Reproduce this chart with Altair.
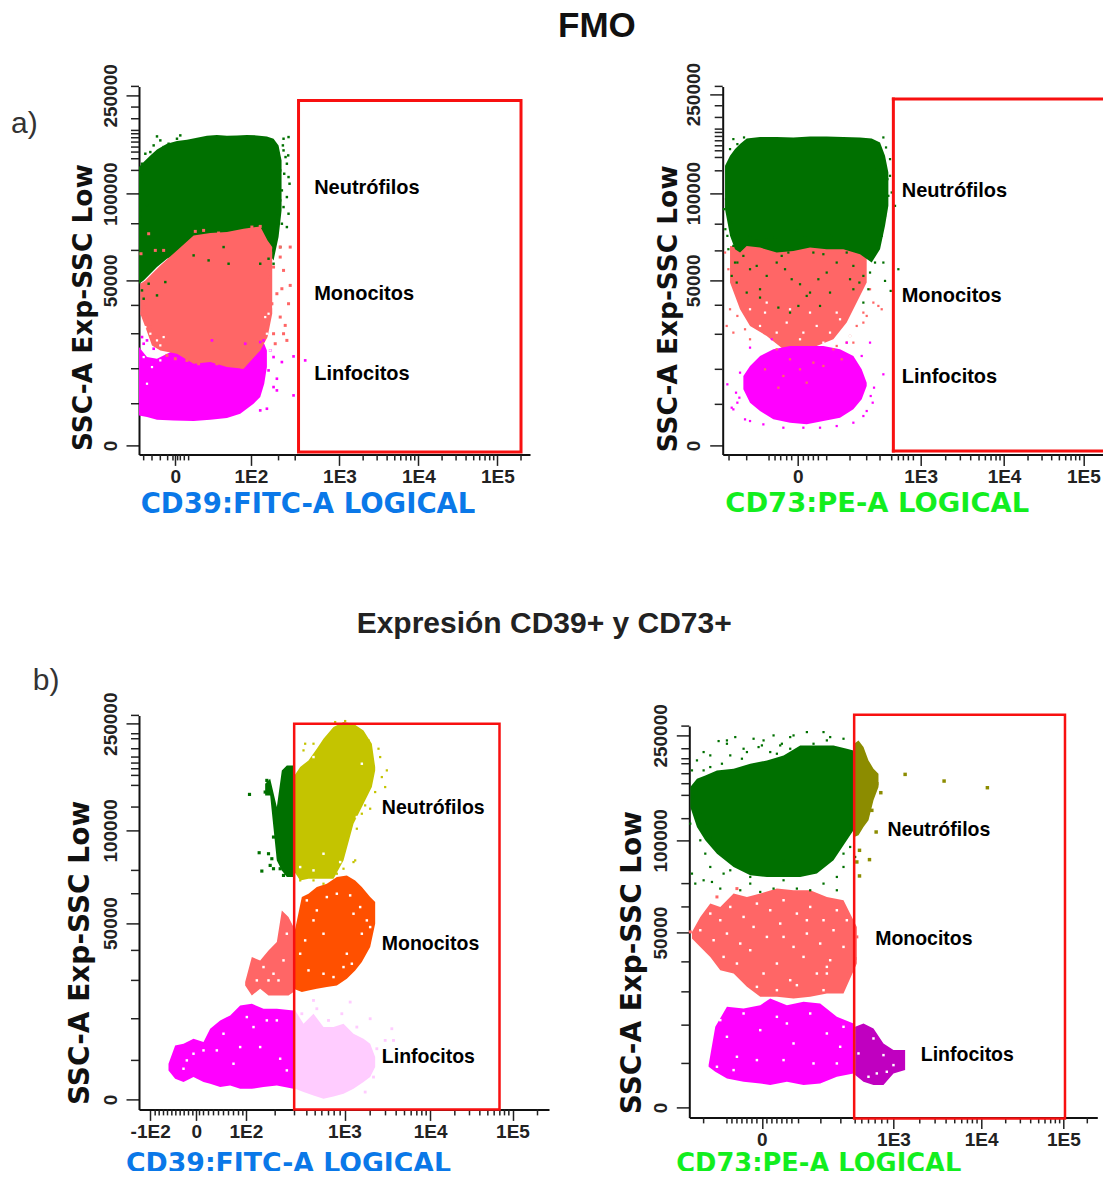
import altair as alt
import pandas as pd

# All positions below are display channels (one channel = 1/3 px).
P1_GREEN = dict(x=[236,250,270,290,320,350,380,410,440,470,500,530,560,590,620,640,655,664],
                top=[350,335,315,297,280,272,268,262,256,254,256,255,254,255,258,265,285,330],
                bot=[700,690,670,650,625,610,600,590,590,590,590,590,590,590,600,630,560,480])
P1_MAG = dict(x=[236,260,290,340,400,450,500,540,580,600,612,620],
              top=[890,920,925,900,880,880,880,880,880,880,880,900],
              bot=[1095,1100,1108,1110,1112,1108,1103,1090,1060,1040,1000,950])
P1_SALMON = dict(x=[240,255,275,300,350,400,450,500,550,600,622,636],
                 top=[700,690,670,645,600,555,548,545,535,528,570,590],
                 bot=[790,830,885,900,910,940,935,950,955,900,860,790])
P1_GREEN_SX = [255,270,290,325,360,245,250,260,240,670,685,670,680,685,672,688,665,680,660,670,650,685,665,680,650,640,660,245,265,290,250,400,445,505,490,600,315,300,350,625,640,668,676,660,655,684,245,240,280,310]
P1_GREEN_SY = [310,305,258,280,255,370,395,465,500,265,260,300,340,380,370,400,420,440,450,470,490,490,520,530,525,600,590,720,700,735,745,615,630,640,590,640,695,270,265,625,640,285,320,360,510,315,340,480,285,290]
P1_SALMON_SX = [265,242,285,310,690,660,640,660,670,690,665,650,685,635,660,625,675,640,670,645,680,250,260,245,270,290,405,430,475,575,600,630]
P1_SALMON_SY = [550,610,600,600,590,590,650,620,660,705,715,730,760,760,800,790,825,850,850,880,870,770,800,790,830,860,543,540,548,530,528,680]
P1_MAG_SX = [700,735,700,665,640,650,640,650,620,600,625,245,250,555,600,455,610,630,260,280]
P1_MAG_SY = [918,930,1035,935,920,985,1010,1020,1075,1080,960,860,880,880,875,870,870,900,870,895]
P1_LSAL_SX = [415,520,380,545,470,345,320]
P1_LSAL_SY = [940,945,930,950,940,925,915]
P1_WHITE_SX = [255,270,290,310,262,285,300,250,640,625,615,650,260,275,300,620,630]
P1_WHITE_SY = [830,850,870,860,880,905,885,920,770,790,800,800,1000,950,930,850,900]

P2_GREEN = dict(x=[225,240,255,270,290,330,380,430,480,530,580,630,665,690,705,715],
                top=[350,320,300,285,268,264,264,265,262,262,264,265,268,280,320,370],
                bot=[480,560,600,610,590,595,610,605,595,600,600,615,640,600,530,470])
P2_SALMON = dict(x=[240,270,300,350,400,450,500,550,590,620,650],
                 top=[590,590,590,590,590,590,590,590,590,590,590],
                 bot=[700,780,830,860,900,900,890,870,820,760,700])
P2_MAG = dict(x=[280,300,330,370,420,470,520,570,610,635,650],
              top=[980,950,920,900,890,890,890,900,920,960,1000],
              bot=[1020,1060,1085,1110,1120,1125,1115,1105,1080,1050,1010])
P2_GREEN_SX = [250,262,282,700,708,690,680,720,712,725,735,745,722,705,235,228,245,222,232,250,262,245,300,320,350,375,395,415,440,465,490,520,545,570,590,610,640,660,675,700,655,628,600,560,530,505,480,450,425,405,380,350,330,300,280,260,290,320,420,510,640,610,540,470,445,385,330,695,715,705,685,720,240,226,255,235]
P2_GREEN_SY = [270,285,265,265,295,300,360,330,390,430,470,660,725,695,400,450,520,480,560,590,640,680,560,575,570,565,620,610,545,560,610,615,560,570,610,650,680,670,640,640,720,700,690,640,670,690,730,705,690,660,640,680,720,660,620,700,730,650,790,770,760,720,730,740,770,775,745,560,440,500,585,380,300,540,640,600]
P2_SALMON_SX = [225,235,250,240,262,285,300,660,685,695,640,670,620,650,230,250,600,640,610,590,560]
P2_SALMON_SY = [610,660,690,780,800,840,870,720,770,780,790,760,830,800,830,850,860,820,880,880,890]
P2_MAG_SX = [232,270,258,262,250,245,285,300,340,400,460,510,560,610,650,662,672,668,640,660,700,635,590,268,300,365]
P2_MAG_SY = [1005,970,1030,1060,1080,1075,1110,1115,1125,1135,1135,1135,1130,1120,1085,1040,1015,1060,1100,880,975,920,880,1045,895,870]
P2_LSAL_SX = [380,420,450,490,520,470,400,550,345,430,500,385,575]
P2_LSAL_SY = [900,930,960,940,950,1000,980,900,960,880,880,1015,930]
P2_WHITE_SX = [300,330,380,410,450,500,540,570,345,420,480,520,600,300,620,360,460,350,560,280]
P2_WHITE_SY = [780,830,850,820,870,830,850,810,790,780,790,880,860,860,790,875,850,760,790,820]

P3_GREEN = dict(x=[615,630,650,665,680,700], top=[310,295,380,270,255,255], bot=[345,345,540,570,590,590])
P3_GREEN_SX = [568,597,605,625,640,630,660,620,615,650,640,635,655,670]
P3_GREEN_SY = [342,517,572,520,565,555,565,300,335,400,470,535,530,585]
P3_OLIVE = dict(x=[700,720,745,770,790,820,850,880,910,935,945],
                top=[290,260,240,205,175,140,125,130,150,190,260],
                bot=[570,600,595,595,595,595,540,430,370,320,270])
P3_OLIVE_SX = [735,760,730,955,980,965,975,945,930,915,905,890,885,850,830,720,735,760,790,825,855,880,925,960]
P3_OLIVE_SY = [190,190,210,205,270,290,320,335,385,375,400,445,540,565,580,600,590,600,610,125,122,545,180,230]
P3_ORANGE = dict(x=[700,725,745,770,800,830,860,885,905,930,945],
                 top=[770,650,640,620,610,590,585,600,620,650,665],
                 bot=[925,935,930,925,920,915,895,870,845,800,730])
P3_SALMON = dict(x=[555,575,600,625,650,665,685,700],
                 top=[905,830,840,810,785,690,710,740],
                 bot=[915,945,925,945,945,945,945,935])
P3_MAG = dict(x=[325,345,370,400,430,450,480,510,540,575,610,650,700],
              top=[1150,1095,1090,1075,1085,1045,1020,1005,975,970,985,985,990],
              bot=[1170,1195,1205,1190,1205,1210,1220,1215,1225,1225,1220,1215,1225])
P3_PINK = dict(x=[705,730,760,790,820,850,880,910,930,945],
               top=[990,1030,1000,1040,1040,1030,1060,1075,1090,1130],
               bot=[1225,1235,1245,1255,1248,1240,1225,1205,1190,1160])
P3_PINK_SX = [760,770,870,845,930,995,975,1000,950,915,940,725,805,890]
P3_PINK_SY = [960,985,965,1000,1015,1045,1080,1080,1105,1235,1190,1000,1020,1040]
P3_WHITE_SX = [740,770,800,830,870,900,920,760,790,735,720,880,905,930,860,745,790,820,850,875,610,640,670,590,625,655,680,400,380,430,560,580,600,650,520,490,540,470,620,660,680,370,890,760,840,720,905,760,790]
P3_WHITE_SY = [660,690,650,640,645,680,720,720,760,780,820,700,760,740,820,870,880,890,860,850,860,880,840,900,900,900,760,1120,1140,1110,1010,1040,1100,1020,1150,1060,1100,1110,1020,1135,1170,1165,410,570,545,560,250,230,520]

P4_GREEN = dict(x=[240,260,285,320,370,420,470,520,570,620,670,710,730],
                top=[320,295,285,270,265,250,240,225,195,195,195,205,210],
                bot=[380,440,480,520,560,585,590,590,590,580,540,480,450])
P4_OLIVE = dict(x=[732,745,760,775,790,805], top=[190,180,200,240,265,280], bot=[470,465,440,420,360,320])
P4_OLIVE_SX = [885,1002,1132,798,778,748,740,748,812,800,785]
P4_OLIVE_SY = [282,302,322,455,538,510,545,587,337,310,390]
P4_GREEN_SX = [260,280,300,325,350,375,400,430,460,490,515,540,590,640,660,700,265,250,245,270,290,300,285,320,340,270,245,255,280,300,330,360,390,420,450,490,520,560,600,640,680,700,720,735,240,350,305,455,550,610,650,380,420,520,600,680,720,700,410,445,480,510,395,360,335,300,280,540,500]
P4_GREEN_SY = [240,215,225,182,180,170,205,175,180,165,190,170,155,155,170,175,330,350,270,400,430,470,520,500,580,480,580,610,600,560,625,570,630,610,635,625,600,625,630,610,630,560,500,530,430,190,605,195,165,190,180,545,590,540,570,590,440,520,215,200,215,195,235,225,250,260,270,205,220]
P4_SALMON = dict(x=[245,270,300,330,370,410,450,500,550,600,650,700,740],
                 top=[755,710,670,680,640,650,640,625,630,630,650,660,740],
                 bot=[775,800,830,870,880,920,950,950,955,950,940,940,850])
P4_MAG = dict(x=[295,315,350,400,450,480,530,580,630,680,730],
              top=[1155,1040,980,985,975,955,975,965,970,1010,1030],
              bot=[1160,1175,1195,1205,1210,1215,1205,1215,1210,1190,1180])
P4_PURPLE = dict(x=[735,760,790,820,850,885], top=[1040,1030,1045,1090,1110,1110], bot=[1185,1205,1215,1215,1180,1170])
P4_SAL_SX = [740,735,320,380,240,715]
P4_SAL_SY = [770,835,650,625,755,880]
P4_WHITE_SX = [300,330,360,400,440,480,520,560,600,640,680,270,310,350,390,430,470,510,550,590,630,670,710,340,380,420,460,500,540,580,620,660,700,500,440,640,650,650,560,520,590,330,350,400,450,500,550,600,650,700,440,380,370,520,610,690,290,320,530,680]
P4_WHITE_SY = [700,720,680,710,670,690,660,700,680,720,690,750,780,760,790,740,770,730,800,760,790,750,720,830,850,810,880,850,900,830,880,840,800,930,920,930,860,880,915,770,720,1020,1070,1000,1050,1010,1090,1000,1060,1040,1140,1130,1170,1140,1150,1100,1110,1160,1030,1150]
P4_PUR_WX = [790,820,850,775,745,800,830]
P4_PUR_WY = [1075,1125,1155,1190,1120,1180,1175]

CAT_NAMES = ["Neutrófilos", "Monocitos", "Linfocitos"]


def minor(a, b):
    # log-spaced minor ticks of a display decade, fractions as on the logical axis
    return [round(a + (b - a) * f) for f in (.301, .477, .602, .699, .778, .845, .903, .954)]


P1_X_MAJ = {345: "0", 572: "1E2", 838: "1E3", 1075: "1E4", 1312: "1E5"}
P1_X_MIN = [250, 275, 300, 322, 338, 352, 360, 372, 385, 655, 705, 1383] + minor(838, 1075) + minor(1075, 1312)
P2_X_MAJ = {443: "0", 812: "1E3", 1062: "1E4", 1300: "1E5"}
P2_X_MIN = [237, 290, 357, 375, 392, 410, 425, 460, 475, 490, 505, 530, 600, 650, 690, 725, 745, 760, 775, 790, 1375] + minor(812, 1062) + minor(1062, 1300)
P3_X_MAJ = {270: "-1E2", 408: "0", 557: "1E2", 853: "1E3", 1110: "1E4", 1357: "1E5"}
P3_X_MIN = [285, 297, 310, 322, 335, 347, 360, 372, 385, 398, 418, 430, 445, 460, 475, 490, 505, 520, 535, 548, 645, 703, 740, 765, 785, 805, 822, 840, 1432] + minor(853, 1110) + minor(1110, 1357)
P4_X_MAJ = {455: "0", 850: "1E3", 1113: "1E4", 1360: "1E5"}
P4_X_MIN = [280, 350, 365, 380, 395, 410, 425, 440, 470, 485, 500, 515, 530, 545, 565, 632, 692, 735, 755, 775, 795, 815, 832, 1432] + minor(850, 1113) + minor(1113, 1360)
P1_Y_MAJ = {135: "250000", 430: "100000", 690: "50000", 1185: "0"}
P1_Y_MIN = [108, 170, 205, 240, 250, 262, 275, 290, 305, 325, 360, 520, 600, 765, 850, 955, 1060]
P2_Y_MAJ = {135: "250000", 432: "100000", 693: "50000", 1188: "0"}
P2_Y_MIN = [112, 170, 205, 240, 250, 262, 275, 290, 305, 325, 365, 525, 605, 768, 855, 960, 1065]
P3_Y_MAJ = {130: "250000", 450: "100000", 728: "50000", 1257: "0"}
P3_Y_MIN = [105, 160, 175, 205, 230, 248, 265, 285, 315, 380, 570, 640, 810, 900, 1015, 1140]
P4_Y_MAJ = {165: "250000", 480: "100000", 757: "50000", 1282: "0"}
P4_Y_MIN = [137, 205, 235, 250, 280, 310, 345, 415, 610, 680, 845, 935, 1035, 1150]

SANS = "Liberation Sans"
WIDE = "DejaVu Sans"
RED = "#f81010"


def axis(maj, tick_len, angle=0, pad=2, **kw):
    keys = list(maj)
    labels = [maj[k] for k in keys]
    lab = f"{labels}[indexof({keys},datum.value)]"
    return alt.Axis(values=keys, labelExpr=lab, tickSize=tick_len,
                    grid=False, domainColor="#111", domainWidth=2, tickColor="#222", tickWidth=1.5,
                    labelFont=SANS, labelFontWeight="bold", labelFontSize=19, labelColor="#222",
                    labelAngle=angle, labelOverlap=False, labelBound=False, labelFlush=False, labelPadding=pad,
                    titleFont=WIDE, titleFontWeight="bold", titleBaseline="alphabetic", titleAlign="center", **kw)


def panel(w, h, xdom, ydom, xax, yax, xmin, ymin, blobs, specks, box, box_w, labels, extra=(), yrange=None,
          open_right=False):
    ys_kw = dict(domain=ydom, nice=False, zero=False)
    if yrange:
        ys_kw["range"] = yrange
    xs = alt.Scale(domain=xdom, nice=False, zero=False)
    ys = alt.Scale(**ys_kw)
    X = alt.X("x:Q", scale=xs, axis=xax)
    Y = alt.Y("y:Q", scale=ys, axis=yax)
    layers = []
    for color, b in blobs:
        df = pd.DataFrame(b).rename(columns={"top": "y"})
        layers.append(alt.Chart(df).mark_area(color=color, interpolate="linear").encode(x=X, y=Y, y2="bot:Q"))
    # minor ticks of both axes
    tdf = pd.DataFrame({"x": xmin, "y": [ydom[0]] * len(xmin), "y2": [ydom[0] + 18] * len(xmin)})
    layers.append(alt.Chart(tdf).mark_rule(color="#222", strokeWidth=1.5).encode(x=X, y=Y, y2="y2:Q"))
    tdf = pd.DataFrame({"y": ymin, "x": [xdom[0]] * len(ymin), "x2": [xdom[0] - 24] * len(ymin)})
    layers.append(alt.Chart(tdf).mark_rule(color="#222", strokeWidth=1.5).encode(x=X, y=Y, x2="x2:Q"))
    for color, size, sx, sy in specks:
        df = pd.DataFrame({"x": sx, "y": sy})
        layers.append(alt.Chart(df).mark_square(color=color, size=size, opacity=1).encode(x=X, y=Y))
    if open_right:
        h_df = pd.DataFrame({"x": [box[0], box[0]], "x2": [box[1], box[1]], "y": [box[2], box[3]]})
        layers.append(alt.Chart(h_df).mark_rule(color=RED, strokeWidth=box_w, strokeCap="square").encode(x=X, x2="x2:Q", y=Y))
        v_df = pd.DataFrame({"x": [box[0]], "y": [box[2]], "y2": [box[3]]})
        layers.append(alt.Chart(v_df).mark_rule(color=RED, strokeWidth=box_w, strokeCap="square").encode(x=X, y=Y, y2="y2:Q"))
    else:
        bdf = pd.DataFrame({"x": [box[0]], "x2": [box[1]], "y": [box[2]], "y2": [box[3]]})
        layers.append(alt.Chart(bdf).mark_rect(fill=None, fillOpacity=0, stroke=RED, strokeWidth=box_w).encode(
            x=X, x2="x2:Q", y=Y, y2="y2:Q"))
    tdf = pd.DataFrame({"x": [l[0] for l in labels], "y": [l[1] for l in labels], "t": CAT_NAMES})
    layers.append(alt.Chart(tdf).mark_text(align="left", baseline="alphabetic", font=SANS, fontWeight="bold",
                                           fontSize=labels[0][2], color="#000").encode(x=X, y=Y, text="t:N"))
    for (x, y, t, fs, wgt, col) in extra:
        edf = pd.DataFrame({"x": [x], "y": [y], "t": [t]})
        layers.append(alt.Chart(edf).mark_text(align="center", baseline="alphabetic", font=SANS, fontWeight=wgt,
                                               fontSize=fs, color=col).encode(x=X, y=Y, text="t:N"))
    return alt.layer(*layers).properties(width=w, height=h)


BLUE, LIME = "#0a78e8", "#12ee1e"
GREEN, SALMON, MAG = "#007000", "#ff6666", "#ff00ff"

p1 = panel(391, 368, [236, 1410], [1212, 108],
           axis(P1_X_MAJ, 11, title="CD39:FITC-A LOGICAL", titleColor=BLUE, titleFontSize=27.5,
                titleX=168.5, titleY=57.7),
           axis(P1_Y_MAJ, 13, angle=-90, pad=6, title="SSC-A Exp-SSC Low", titleColor="#111", titleFontSize=26.4,
                titleX=-47.7, titleY=220.7),
           P1_X_MIN, P1_Y_MIN,
           [(GREEN, P1_GREEN), (MAG, P1_MAG), (SALMON, P1_SALMON)],
           [(GREEN, 6, P1_GREEN_SX, P1_GREEN_SY), (MAG, 7, P1_MAG_SX, P1_MAG_SY),
            (SALMON, 9, P1_SALMON_SX, P1_SALMON_SY), (SALMON, 9, P1_LSAL_SX, P1_LSAL_SY),
            ("#ffffff", 5, P1_WHITE_SX, P1_WHITE_SY)],
           [715, 1383, 150, 1205], 3, [(762, 432, 20), (762, 750, 20), (762, 988, 20)],
           extra=[(1611, -39, "FMO", 35, "bold", "#111"), (-108, 249, "a)", 30, "normal", "#333")])

p2 = panel(386.5, 368, [218, 1377.5], [1215, 112],
           axis(P2_X_MAJ, 11, title="CD73:PE-A LOGICAL", titleColor=LIME, titleFontSize=27.4,
                titleX=154, titleY=57.3),
           axis(P2_Y_MAJ, 13, angle=-90, pad=6, title="SSC-A Exp-SSC Low", titleColor="#111", titleFontSize=26.4,
                titleX=-46, titleY=222),
           P2_X_MIN, P2_Y_MIN,
           [(SALMON, P2_SALMON), (GREEN, P2_GREEN), (MAG, P2_MAG)],
           [(SALMON, 5, P2_SALMON_SX, P2_SALMON_SY), (MAG, 5, P2_MAG_SX, P2_MAG_SY),
            (SALMON, 5, P2_LSAL_SX, P2_LSAL_SY), ("#ffffff", 5, P2_WHITE_SX, P2_WHITE_SY),
            (GREEN, 5, P2_GREEN_SX, P2_GREEN_SY)],
           [730, 1377, 150, 1205], 3, [(755, 445, 20), (755, 758, 20), (755, 1000, 20)], open_right=True)

p3 = panel(410, 394, [236.5, 1466.5], [1287, 105],
           axis(P3_X_MAJ, 11, title="CD39:FITC-A LOGICAL", titleColor=BLUE, titleFontSize=26.7,
                titleX=149, titleY=62.5),
           axis(P3_Y_MAJ, 13, angle=-90, pad=6, title="SSC-A Exp-SSC Low", titleColor="#111", titleFontSize=28,
                titleX=-50.5, titleY=237),
           P3_X_MIN, P3_Y_MIN,
           [(GREEN, P3_GREEN), (SALMON, P3_SALMON), (MAG, P3_MAG), ("#c4c400", P3_OLIVE), ("#ff5000", P3_ORANGE),
            ("#ffccff", P3_PINK)],
           [(GREEN, 10, P3_GREEN_SX, P3_GREEN_SY), ("#c4c400", 5, P3_OLIVE_SX, P3_OLIVE_SY),
            ("#ffccff", 8, P3_PINK_SX, P3_PINK_SY), ("#ffffff", 6, P3_WHITE_SX, P3_WHITE_SY)],
           [702, 1318, 130, 1287], 2.5, [(965, 400, 19.5), (965, 808, 19.5), (965, 1147, 19.5)],
           extra=[(1452, -141, "Expresión CD39+ y CD73+", 30, "bold", "#222"), (-42, 30, "b)", 30, "normal", "#333")])

p4 = panel(408, 402, [237, 1462], [1312, 137],
           axis(P4_X_MAJ, 11, title="CD73:PE-A LOGICAL", titleColor=LIME, titleFontSize=25.7,
                titleX=129, titleY=54.5),
           axis(P4_Y_MAJ, 13, angle=-90, pad=6, title="SSC-A Exp-SSC Low", titleColor="#111", titleFontSize=27.9,
                titleX=-49, titleY=246.7),
           P4_X_MIN, P4_Y_MIN,
           [(SALMON, P4_SALMON), (GREEN, P4_GREEN), ("#8c8c00", P4_OLIVE), (MAG, P4_MAG), ("#c000c0", P4_PURPLE)],
           [(SALMON, 9, P4_SAL_SX, P4_SAL_SY), (GREEN, 5, P4_GREEN_SX, P4_GREEN_SY),
            ("#8c8c00", 12, P4_OLIVE_SX, P4_OLIVE_SY), ("#ffffff", 6, P4_WHITE_SX, P4_WHITE_SY),
            ("#ffffff", 6, P4_PUR_WX, P4_PUR_WY)],
           [732, 1365, 103, 1315], 2.5, [(832, 468, 19.5), (795, 793, 19.5), (932, 1143, 19.5)],
           yrange=[402, 10.7])

top = alt.hconcat(p1, p2, spacing=192.7, bounds="flush")
bottom = alt.hconcat(p3, p4, spacing=140.3, bounds="flush")
chart = alt.vconcat(top, bottom, spacing=629, bounds="flush").configure_view(stroke=None).properties(
    padding={"left": 3, "top": 1.4, "right": -9, "bottom": -7})
chart.save("out.html", embed_options={"renderer": "svg", "actions": False})
